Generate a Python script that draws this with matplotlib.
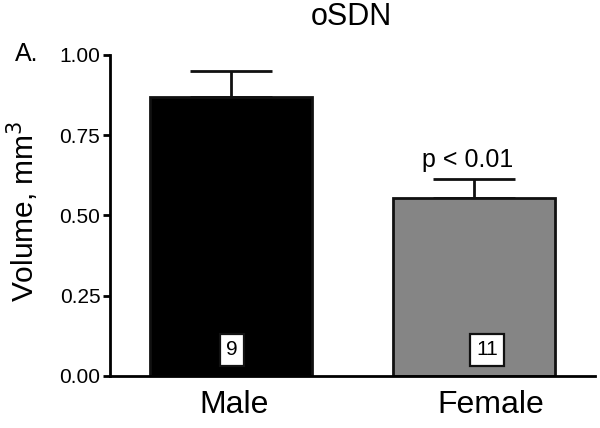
import matplotlib
matplotlib.use("Agg")
import matplotlib.pyplot as plt

plt.rcParams['font.family'] = ['Liberation Sans', 'DejaVu Sans']

groups = ["Male", "Female"]
means = [0.869, 0.555]
sem = [0.081, 0.059]
n_labels = ["9", "11"]
colors = ["#000000", "#858585"]

fig = plt.figure(figsize=(6, 4.28), dpi=100)
ax = fig.add_axes([0.1833, 0.1215, 0.8084, 0.75])

x = [0, 1]
ax.bar(x, means, width=0.67, color=colors, edgecolor="#111111", linewidth=2, zorder=2)
ax.errorbar(x, means, yerr=[[0, 0], sem], fmt="none", ecolor="#111111",
            elinewidth=2, capsize=29.5, capthick=2, zorder=1)

# n per group, boxed near the bottom of each bar
for xi, lab, dx in zip(x, n_labels, [0.004, 0.056]):
    ax.text(xi + dx, 0.081, lab, ha="center", va="center", fontsize=15,
            bbox=dict(boxstyle="square,pad=0.3", fc="white", ec="#111111", lw=1.6),
            zorder=3)

ax.text(0.975, means[1] + sem[1] + 0.06, "p < 0.01", ha="center", va="center", fontsize=18)

ax.set_xlim(-0.5, 1.5)
ax.set_ylim(0, 1)
ax.set_yticks([0, 0.25, 0.5, 0.75, 1.0])
ax.set_yticklabels(["0.00", "0.25", "0.50", "0.75", "1.00"], fontsize=15)
ax.set_xticks([])
for xi, lab, dx in zip(x, groups, [0.01, 0.07]):
    ax.text(xi + dx, -0.09, lab, ha="center", va="center", fontsize=23)
ax.tick_params(axis="y", length=5, width=2, pad=2)
for s in ["top", "right"]:
    ax.spines[s].set_visible(False)
ax.spines["left"].set_linewidth(2)
ax.spines["bottom"].set_linewidth(2)

ax.set_ylabel("Volume, mm$^3$", fontsize=21.5)
ax.yaxis.set_label_coords(-0.142, 0.514)
fig.text(0.585, 0.96, "oSDN", ha="center", va="center", fontsize=22)
fig.text(0.045, 0.874, "A.", ha="center", va="center", fontsize=18)

fig.savefig("out.png", dpi=100)
